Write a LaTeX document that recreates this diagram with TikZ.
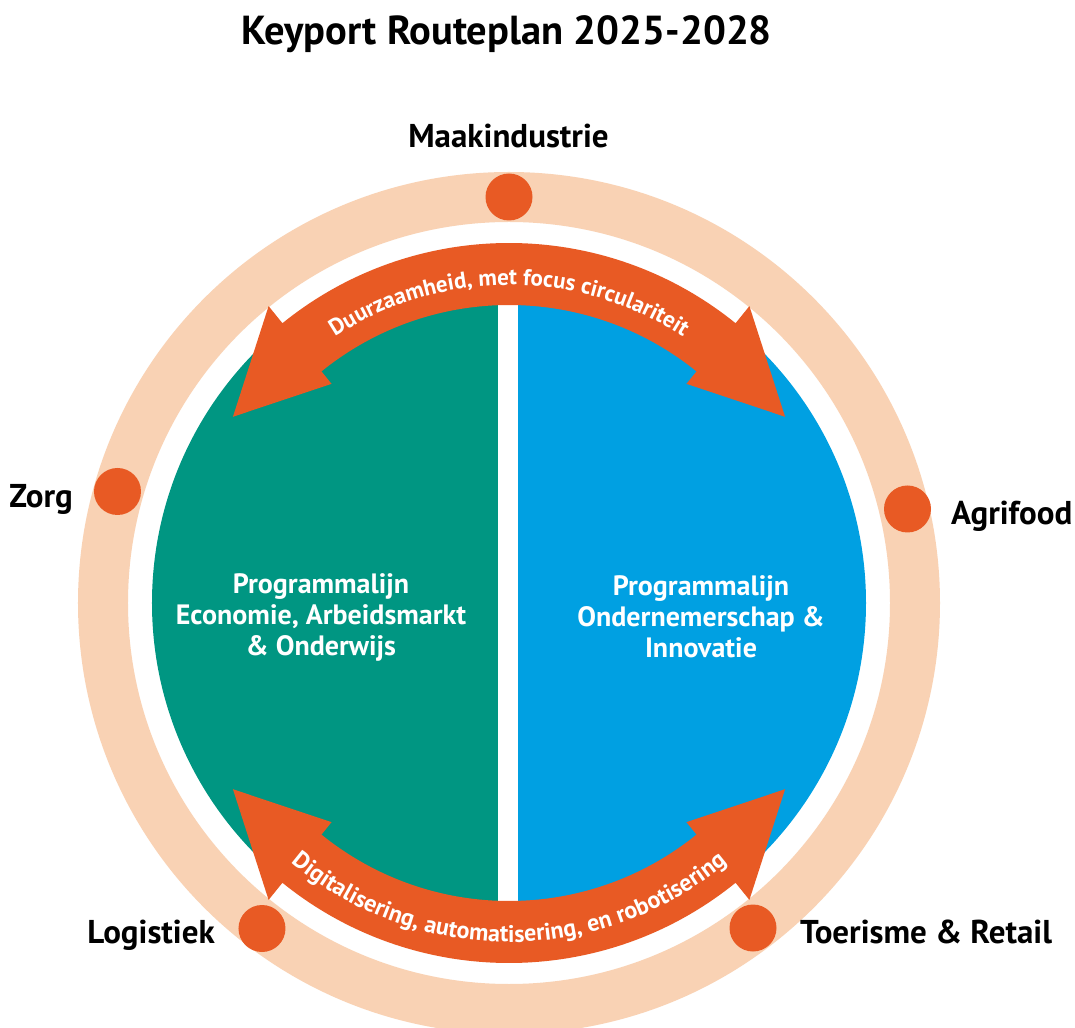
\documentclass[tikz,border=0pt]{standalone}
\usepackage{fontspec}
\setmainfont{PT Sans}
\usetikzlibrary{decorations.text}
\definecolor{kpOrange}{RGB}{232,90,36}
\definecolor{kpPeach}{RGB}{249,210,180}
\definecolor{kpTeal}{RGB}{0,150,130}
\definecolor{kpBlue}{RGB}{0,160,226}
\newcommand\arcfontA{\bfseries\fontsize{23}{23}\selectfont}
\newcommand\arcfontB{\bfseries\fontsize{24}{24}\selectfont}
\tikzset{
  dot/.style={circle, fill=kpOrange, minimum size=47pt, inner sep=0pt},
  sector/.style={font=\bfseries\fontsize{33}{33}\selectfont, inner sep=0pt, text=black},
  prog/.style={font=\bfseries\fontsize{28}{31}\selectfont, align=center, text=white, inner sep=0pt},
  band/.style={fill=kpOrange},
  arctext/.style={decorate, decoration={text along path, text align=center, text color=white}}
}
\begin{document}
\begin{tikzpicture}[x=1pt,y=1pt]
\clip (-509,-424) rectangle (566,603);
\fill[white] (-509,-424) rectangle (566,603);
% title
\node[font=\bfseries\fontsize{40.5}{40.5}\selectfont, anchor=base, inner sep=0pt] (title) at (-2.5,558) {Keyport Routeplan 2025-2028};
% outer ring
\draw[kpPeach, line width=50pt] (0,0) circle (406);
% inner disk halves
\begin{scope}
  \clip (0,0) circle (357);
  \fill[kpTeal] (-400,-400) rectangle (-11,400);
  \fill[kpBlue] (9,-400) rectangle (400,400);
\end{scope}
% top double arrow
\fill[band] (129:360) arc[start angle=129,end angle=51,radius=360]
  -- (51:382) -- (34:333) -- (51:282) -- (51:298)
  arc[start angle=51,end angle=129,radius=298]
  -- (129:282) -- (146:333) -- (129:382) -- cycle;
% bottom double arrow
\fill[band] (-129:360) arc[start angle=-129,end angle=-51,radius=360]
  -- (-51:382) -- (-34:333) -- (-51:282) -- (-51:298)
  arc[start angle=-51,end angle=-129,radius=298]
  -- (-129:282) -- (-146:333) -- (-129:382) -- cycle;
% arc texts
\path[arctext, decoration={text={|\arcfontA|Duurzaamheid, met focus circulariteit}}]
  (145:318) arc[start angle=145,end angle=35,radius=318];
\path[arctext, decoration={text={|\arcfontB|Digitalisering, automatisering, en robotisering}}]
  (-150:339) arc[start angle=-150,end angle=-30,radius=339];
% programme texts
\node[prog] (progL) at (-188,-14) {Programmalijn\\Economie, Arbeidsmarkt\\\& Onderwijs};
\node[prog] (progR) at (192,-14) {Programmalijn\\Ondernemerschap \&\\Innovatie};
% dots
\node[dot] (dMaak) at (0,406) {};
\node[dot] (dZorg) at (-391.5,111.5) {};
\node[dot] (dAgri) at (398.5,94) {};
\node[dot] (dLog) at (-247,-325.5) {};
\node[dot] (dToer) at (244,-325) {};
% labels
\node[sector, anchor=base] (lMaak) at (-0.5,455) {Maakindustrie};
\node[sector, anchor=base east] (lZorg) at (-436,95) {Zorg};
\node[sector, anchor=base west] (lAgri) at (442,78) {Agrifood};
\node[sector, anchor=base east] (lLog) at (-294,-340) {Logistiek};
\node[sector, anchor=base west] (lToer) at (291,-340) {Toerisme \& Retail};
\end{tikzpicture}
\end{document}
